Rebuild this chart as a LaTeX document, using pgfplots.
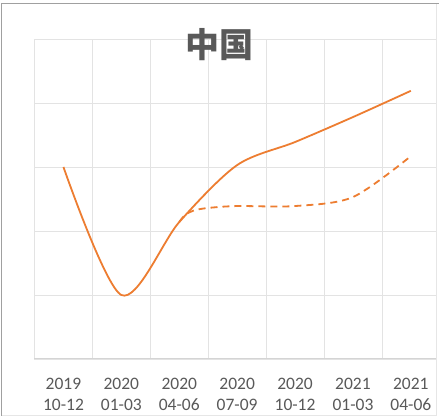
\documentclass[border=0pt]{standalone}
\usepackage{fontspec}
\setmainfont{Carlito}
\newfontfamily\cjk{Noto Sans CJK SC}
\usepackage{pgfplots}
\pgfplotsset{compat=1.18}
\definecolor{lineorange}{HTML}{ED7D31}
\definecolor{gridgray}{HTML}{E3E3E3}
\definecolor{axisgray}{HTML}{D4D4D4}
\definecolor{labelgray}{HTML}{595959}
\definecolor{framedark}{HTML}{A0A0A0}
\definecolor{framelight}{HTML}{E6E6E6}
\begin{document}
\begin{tikzpicture}[x=1pt,y=1pt]
\useasboundingbox (0,0) rectangle (439,419);
\clip (0,0) rectangle (439,419);
\fill[white] (0,0) rectangle (439,419);
\begin{scope}
\clip (0,0) rectangle (436,419);
\begin{axis}[
  at={(34.5pt,60pt)}, anchor=south west,
  scale only axis, width=405.3pt, height=320pt,
  xmin=-0.5, xmax=6.5, ymin=0, ymax=5,
  xtick={0,...,6},
  xticklabels={2019\\10-12,2020\\01-03,2020\\04-06,2020\\07-09,2020\\10-12,2021\\01-03,2021\\04-06},
  xticklabel style={align=center, text=labelgray, font=\fontsize{17.5}{21}\selectfont, yshift=-16pt},
  minor xtick={-0.5,0.5,...,6.5},
  xminorgrids=true,
  ytick={0,...,5}, yticklabels={},
  ymajorgrids=true,
  grid style={gridgray, line width=0.8pt},
  minor grid style={gridgray, line width=0.8pt},
  axis line style={draw=none},
  major tick length=0pt, minor tick length=0pt,
  clip=false,
]
\draw[axisgray, line width=1pt] (rel axis cs:0,0) -- (rel axis cs:1,0);
\addplot[lineorange, line width=1.8pt, smooth, tension=0.5, dash pattern=on 7pt off 5pt] coordinates {
  (2,2.14) (2.1,2.25) (2.25,2.32) (2.5,2.36) (3,2.39) (4,2.39) (5,2.53) (6,3.17)
};
\addplot[lineorange, line width=1.8pt, smooth, tension=0.5] coordinates {
  (0,3.0) (1,1.0) (2,2.14) (3,3.03) (4,3.39) (5,3.78) (6,4.19)
};
\end{axis}
\end{scope}
\node[text=labelgray, font=\cjk\bfseries\fontsize{34}{40}\selectfont] at (219,374) {中国};
\draw[framelight, line width=1pt] (436,3) -- (436,415.5);
\draw[framelight, line width=1pt] (1.5,3) -- (436,3);
\draw[framedark, line width=1.2pt] (1.5,3) -- (1.5,415.5) -- (439,415.5);
\end{tikzpicture}
\end{document}
